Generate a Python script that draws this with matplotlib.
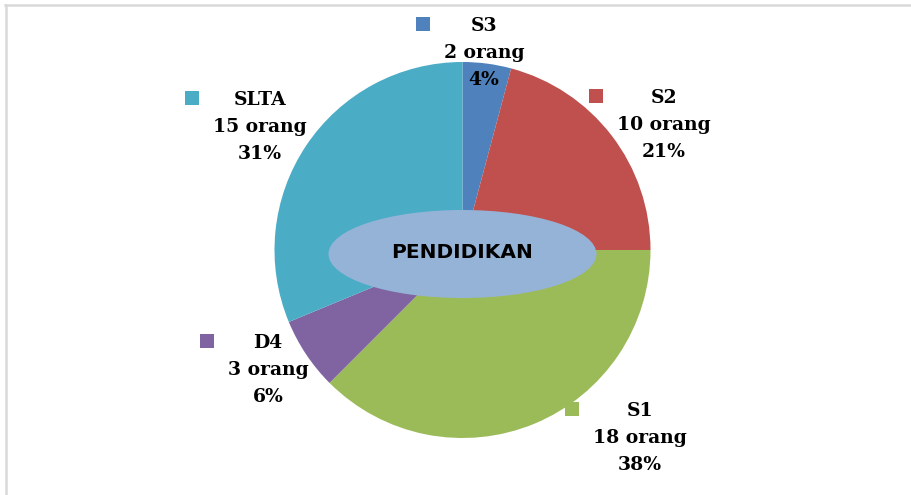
import matplotlib
matplotlib.use("Agg")
import matplotlib.pyplot as plt
from matplotlib.patches import Ellipse, Rectangle
from matplotlib.lines import Line2D

# data
categories = ["S3", "S2", "S1", "D4", "SLTA"]
counts = [2, 10, 18, 3, 15]
percents = ["4%", "21%", "38%", "6%", "31%"]
colors = ["#4f81bd", "#c0504d", "#9bbb59", "#8064a2", "#4bacc6"]
title = "PENDIDIKAN"

# label block centres in pixels (x from left, y from top)
label_pos = [(484, 53), (664, 125), (640, 438), (268, 370), (260, 127)]

W, H = 912, 495
fig = plt.figure(figsize=(W / 100, H / 100), dpi=100)
ax = fig.add_axes([0, 0, 1, 1])

ax.pie(counts, colors=colors, startangle=90, counterclock=False,
       center=(462.5, H - 250), radius=188, frame=True,
       wedgeprops=dict(linewidth=0))
ax.set_xlim(0, W)
ax.set_ylim(0, H)
ax.set_aspect("equal")
ax.axis("off")

# centre ellipse with the title
ax.add_patch(Ellipse((462.5, H - 254), 268, 88, facecolor="#95b3d7",
                     edgecolor="none", zorder=5))
ax.text(462.5, H - 253, title, ha="center", va="center", fontsize=14.5,
        fontweight="bold", family="DejaVu Sans", zorder=6)

texts = []
for cat, n, p, (x, y) in zip(categories, counts, percents, label_pos):
    t = ax.text(x, H - y, f"{cat}\n{n} orang\n{p}", ha="center", va="center",
                fontsize=13.5, fontweight="bold", family="DejaVu Serif",
                linespacing=1.62, multialignment="center", zorder=7)
    texts.append(t)

# legend keys to the left of each label block
fig.canvas.draw()
r = fig.canvas.get_renderer()
inv = ax.transData.inverted()
for t, c, (x, y) in zip(texts, colors, label_pos):
    bb = t.get_window_extent(r)
    x0 = inv.transform((bb.x0, bb.y0))[0]
    ax.add_patch(Rectangle((x0 - 14 - 14, H - (y - 29) - 7), 14, 14,
                           facecolor=c, edgecolor="none", zorder=8))

# light frame on top and left edge
fig.add_artist(Line2D([5.5 / W, 1], [1 - 5 / H, 1 - 5 / H], color="#d9d9d9",
                      lw=1.8, transform=fig.transFigure))
fig.add_artist(Line2D([6 / W, 6 / W], [0, 1 - 5 / H], color="#d9d9d9",
                      lw=1.8, transform=fig.transFigure))

fig.savefig("out.png", dpi=100)
